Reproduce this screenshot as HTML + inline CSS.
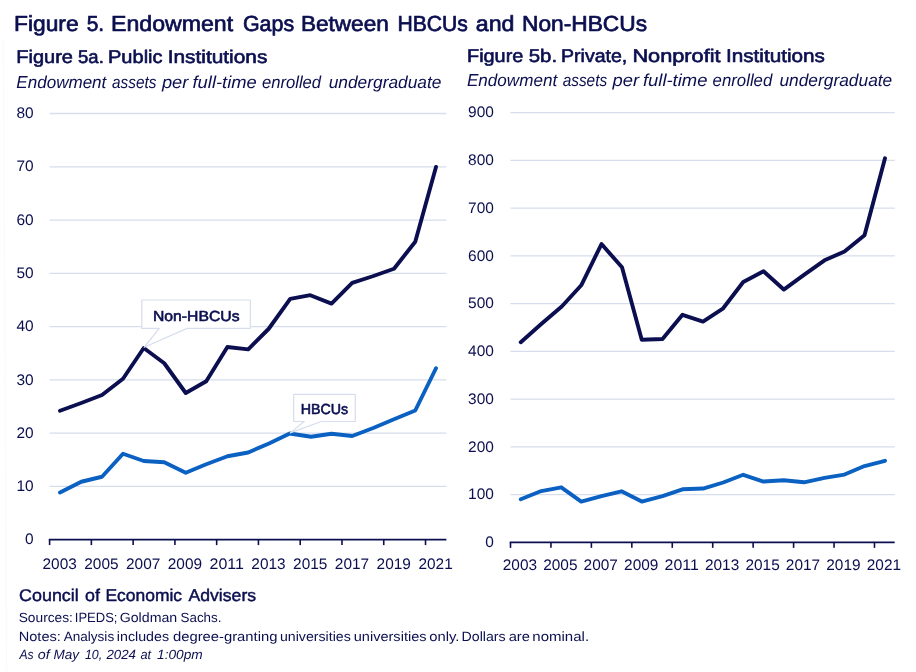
<!DOCTYPE html>
<html lang="en"><head><meta charset="utf-8"><title>Figure 5. Endowment Gaps Between HBCUs and Non-HBCUs</title>
<style>html,body{margin:0;padding:0;background:#fff}body{width:916px;height:672px;overflow:hidden}svg{display:block}text{font-family:"Liberation Sans",sans-serif;fill:#0b0f4f;text-rendering:geometricPrecision}</style></head><body>
<svg width="916" height="672" viewBox="0 0 916 672">
<rect width="916" height="672" fill="#fff"/>
<line x1="3.3" y1="39" x2="6.6" y2="672" stroke="#fafafc" stroke-width="1.2"/>
<text y="31.2" font-size="21.8" stroke="#0b0f4f" stroke-width="0.7" stroke-linejoin="round"><tspan x="13.99" textLength="64.58" lengthAdjust="spacingAndGlyphs">Figure</tspan> <tspan x="86.65" textLength="17.50" lengthAdjust="spacingAndGlyphs">5.</tspan> <tspan x="111.11" textLength="122.02" lengthAdjust="spacingAndGlyphs">Endowment</tspan> <tspan x="242.92" textLength="51.20" lengthAdjust="spacingAndGlyphs">Gaps</tspan> <tspan x="301.01" textLength="87.74" lengthAdjust="spacingAndGlyphs">Between</tspan> <tspan x="397.41" textLength="70.51" lengthAdjust="spacingAndGlyphs">HBCUs</tspan> <tspan x="475.78" textLength="38.64" lengthAdjust="spacingAndGlyphs">and</tspan> <tspan x="522.01" textLength="125.04" lengthAdjust="spacingAndGlyphs">Non-HBCUs</tspan></text>
<text y="62.9" font-size="18.3" stroke="#0b0f4f" stroke-width="0.62" stroke-linejoin="round"><tspan x="16.36" textLength="56.59" lengthAdjust="spacingAndGlyphs">Figure</tspan> <tspan x="78.09" textLength="25.70" lengthAdjust="spacingAndGlyphs">5a.</tspan> <tspan x="108.02" textLength="54.52" lengthAdjust="spacingAndGlyphs">Public</tspan> <tspan x="167.76" textLength="99.58" lengthAdjust="spacingAndGlyphs">Institutions</tspan></text>
<text y="87.6" font-size="17.3" font-style="italic"><tspan x="16.35" textLength="89.98" lengthAdjust="spacingAndGlyphs">Endowment</tspan> <tspan x="112.00" textLength="44.38" lengthAdjust="spacingAndGlyphs">assets</tspan> <tspan x="161.96" textLength="26.41" lengthAdjust="spacingAndGlyphs">per</tspan> <tspan x="192.51" textLength="64.26" lengthAdjust="spacingAndGlyphs">full-time</tspan> <tspan x="261.88" textLength="59.25" lengthAdjust="spacingAndGlyphs">enrolled</tspan> <tspan x="328.67" textLength="112.82" lengthAdjust="spacingAndGlyphs">undergraduate</tspan></text>
<text y="61.6" font-size="18.3" stroke="#0b0f4f" stroke-width="0.62" stroke-linejoin="round"><tspan x="467.05" textLength="56.23" lengthAdjust="spacingAndGlyphs">Figure</tspan> <tspan x="528.80" textLength="28.24" lengthAdjust="spacingAndGlyphs">5b.</tspan> <tspan x="561.04" textLength="66.24" lengthAdjust="spacingAndGlyphs">Private,</tspan> <tspan x="632.40" textLength="88.24" lengthAdjust="spacingAndGlyphs">Nonprofit</tspan> <tspan x="725.96" textLength="98.88" lengthAdjust="spacingAndGlyphs">Institutions</tspan></text>
<text y="86.0" font-size="17.3" font-style="italic"><tspan x="466.97" textLength="90.20" lengthAdjust="spacingAndGlyphs">Endowment</tspan> <tspan x="562.68" textLength="44.48" lengthAdjust="spacingAndGlyphs">assets</tspan> <tspan x="612.64" textLength="26.60" lengthAdjust="spacingAndGlyphs">per</tspan> <tspan x="642.94" textLength="64.50" lengthAdjust="spacingAndGlyphs">full-time</tspan> <tspan x="712.60" textLength="59.68" lengthAdjust="spacingAndGlyphs">enrolled</tspan> <tspan x="779.40" textLength="112.88" lengthAdjust="spacingAndGlyphs">undergraduate</tspan></text>
<text y="601.3" font-size="17" stroke="#0b0f4f" stroke-width="0.45" stroke-linejoin="round"><tspan x="19.05" textLength="59.74" lengthAdjust="spacingAndGlyphs">Council</tspan> <tspan x="84.99" textLength="14.90" lengthAdjust="spacingAndGlyphs">of</tspan> <tspan x="105.44" textLength="76.63" lengthAdjust="spacingAndGlyphs">Economic</tspan> <tspan x="188.51" textLength="67.56" lengthAdjust="spacingAndGlyphs">Advisers</tspan></text>
<text y="622.2" font-size="13.3"><tspan x="18.70" textLength="54.26" lengthAdjust="spacingAndGlyphs">Sources:</tspan> <tspan x="74.78" textLength="42.66" lengthAdjust="spacingAndGlyphs">IPEDS;</tspan> <tspan x="119.73" textLength="57.50" lengthAdjust="spacingAndGlyphs">Goldman</tspan> <tspan x="180.55" textLength="40.94" lengthAdjust="spacingAndGlyphs">Sachs.</tspan></text>
<text y="640.5" font-size="13.3"><tspan x="18.75" textLength="42.07" lengthAdjust="spacingAndGlyphs">Notes:</tspan> <tspan x="63.66" textLength="50.51" lengthAdjust="spacingAndGlyphs">Analysis</tspan> <tspan x="116.88" textLength="52.13" lengthAdjust="spacingAndGlyphs">includes</tspan> <tspan x="172.95" textLength="104.53" lengthAdjust="spacingAndGlyphs">degree-granting</tspan> <tspan x="280.01" textLength="70.71" lengthAdjust="spacingAndGlyphs">universities</tspan> <tspan x="353.76" textLength="72.77" lengthAdjust="spacingAndGlyphs">universities</tspan> <tspan x="429.32" textLength="30.18" lengthAdjust="spacingAndGlyphs">only.</tspan> <tspan x="461.51" textLength="44.14" lengthAdjust="spacingAndGlyphs">Dollars</tspan> <tspan x="508.68" textLength="21.27" lengthAdjust="spacingAndGlyphs">are</tspan> <tspan x="532.30" textLength="56.80" lengthAdjust="spacingAndGlyphs">nominal.</tspan></text>
<text y="659.2" font-size="13.3" font-style="italic"><tspan x="19.40" textLength="14.16" lengthAdjust="spacingAndGlyphs">As</tspan> <tspan x="37.83" textLength="11.93" lengthAdjust="spacingAndGlyphs">of</tspan> <tspan x="53.40" textLength="25.62" lengthAdjust="spacingAndGlyphs">May</tspan> <tspan x="84.97" textLength="17.25" lengthAdjust="spacingAndGlyphs">10,</tspan> <tspan x="106.46" textLength="29.50" lengthAdjust="spacingAndGlyphs">2024</tspan> <tspan x="140.41" textLength="10.66" lengthAdjust="spacingAndGlyphs">at</tspan> <tspan x="157.05" textLength="45.68" lengthAdjust="spacingAndGlyphs">1:00pm</tspan></text>
<g stroke="#d6ddec" stroke-width="1.3">
<line x1="49.6" x2="446.4" y1="486.34" y2="486.34"/>
<line x1="49.6" x2="446.4" y1="433.08" y2="433.08"/>
<line x1="49.6" x2="446.4" y1="379.82" y2="379.82"/>
<line x1="49.6" x2="446.4" y1="326.56" y2="326.56"/>
<line x1="49.6" x2="446.4" y1="273.30" y2="273.30"/>
<line x1="49.6" x2="446.4" y1="220.04" y2="220.04"/>
<line x1="49.6" x2="446.4" y1="166.78" y2="166.78"/>
<line x1="49.6" x2="446.4" y1="113.52" y2="113.52"/>
<line x1="510.5" x2="894.7" y1="494.60" y2="494.60"/>
<line x1="510.5" x2="894.7" y1="446.85" y2="446.85"/>
<line x1="510.5" x2="894.7" y1="399.10" y2="399.10"/>
<line x1="510.5" x2="894.7" y1="351.35" y2="351.35"/>
<line x1="510.5" x2="894.7" y1="303.60" y2="303.60"/>
<line x1="510.5" x2="894.7" y1="255.85" y2="255.85"/>
<line x1="510.5" x2="894.7" y1="208.10" y2="208.10"/>
<line x1="510.5" x2="894.7" y1="160.35" y2="160.35"/>
<line x1="510.5" x2="894.7" y1="112.60" y2="112.60"/>
</g>
<g stroke="#0b0f4f" stroke-width="1.6" fill="none">
<line x1="48.800000000000004" x2="446.4" y1="539.6" y2="539.6"/>
<line x1="49.60" x2="49.60" y1="539.6" y2="545.1"/>
<line x1="91.37" x2="91.37" y1="539.6" y2="545.1"/>
<line x1="133.14" x2="133.14" y1="539.6" y2="545.1"/>
<line x1="174.91" x2="174.91" y1="539.6" y2="545.1"/>
<line x1="216.67" x2="216.67" y1="539.6" y2="545.1"/>
<line x1="258.44" x2="258.44" y1="539.6" y2="545.1"/>
<line x1="300.21" x2="300.21" y1="539.6" y2="545.1"/>
<line x1="341.98" x2="341.98" y1="539.6" y2="545.1"/>
<line x1="383.75" x2="383.75" y1="539.6" y2="545.1"/>
<line x1="425.52" x2="425.52" y1="539.6" y2="545.1"/>
<line x1="509.7" x2="894.7" y1="542.35" y2="542.35"/>
<line x1="510.50" x2="510.50" y1="542.35" y2="547.85"/>
<line x1="550.94" x2="550.94" y1="542.35" y2="547.85"/>
<line x1="591.38" x2="591.38" y1="542.35" y2="547.85"/>
<line x1="631.83" x2="631.83" y1="542.35" y2="547.85"/>
<line x1="672.27" x2="672.27" y1="542.35" y2="547.85"/>
<line x1="712.71" x2="712.71" y1="542.35" y2="547.85"/>
<line x1="753.15" x2="753.15" y1="542.35" y2="547.85"/>
<line x1="793.59" x2="793.59" y1="542.35" y2="547.85"/>
<line x1="834.04" x2="834.04" y1="542.35" y2="547.85"/>
<line x1="874.48" x2="874.48" y1="542.35" y2="547.85"/>
</g>
<g font-size="15.3" text-anchor="end">
<text x="33.7" y="544.30" textLength="8.6" lengthAdjust="spacingAndGlyphs">0</text>
<text x="33.7" y="491.04" textLength="17.2" lengthAdjust="spacingAndGlyphs">10</text>
<text x="33.7" y="437.78" textLength="17.2" lengthAdjust="spacingAndGlyphs">20</text>
<text x="33.7" y="384.52" textLength="17.2" lengthAdjust="spacingAndGlyphs">30</text>
<text x="33.7" y="331.26" textLength="17.2" lengthAdjust="spacingAndGlyphs">40</text>
<text x="33.7" y="278.00" textLength="17.2" lengthAdjust="spacingAndGlyphs">50</text>
<text x="33.7" y="224.74" textLength="17.2" lengthAdjust="spacingAndGlyphs">60</text>
<text x="33.7" y="171.48" textLength="17.2" lengthAdjust="spacingAndGlyphs">70</text>
<text x="33.7" y="118.22" textLength="17.2" lengthAdjust="spacingAndGlyphs">80</text>
<text x="493.9" y="547.05" textLength="8.6" lengthAdjust="spacingAndGlyphs">0</text>
<text x="493.9" y="499.30" textLength="25.8" lengthAdjust="spacingAndGlyphs">100</text>
<text x="493.9" y="451.55" textLength="25.8" lengthAdjust="spacingAndGlyphs">200</text>
<text x="493.9" y="403.80" textLength="25.8" lengthAdjust="spacingAndGlyphs">300</text>
<text x="493.9" y="356.05" textLength="25.8" lengthAdjust="spacingAndGlyphs">400</text>
<text x="493.9" y="308.30" textLength="25.8" lengthAdjust="spacingAndGlyphs">500</text>
<text x="493.9" y="260.55" textLength="25.8" lengthAdjust="spacingAndGlyphs">600</text>
<text x="493.9" y="212.80" textLength="25.8" lengthAdjust="spacingAndGlyphs">700</text>
<text x="493.9" y="165.05" textLength="25.8" lengthAdjust="spacingAndGlyphs">800</text>
<text x="493.9" y="117.30" textLength="25.8" lengthAdjust="spacingAndGlyphs">900</text>
</g>
<g font-size="15.3" text-anchor="middle">
<text x="59.64" y="568.6" textLength="34.3" lengthAdjust="spacingAndGlyphs">2003</text>
<text x="101.41" y="568.6" textLength="34.3" lengthAdjust="spacingAndGlyphs">2005</text>
<text x="143.18" y="568.6" textLength="34.3" lengthAdjust="spacingAndGlyphs">2007</text>
<text x="184.95" y="568.6" textLength="34.3" lengthAdjust="spacingAndGlyphs">2009</text>
<text x="226.72" y="568.6" textLength="34.3" lengthAdjust="spacingAndGlyphs">2011</text>
<text x="268.48" y="568.6" textLength="34.3" lengthAdjust="spacingAndGlyphs">2013</text>
<text x="310.25" y="568.6" textLength="34.3" lengthAdjust="spacingAndGlyphs">2015</text>
<text x="352.02" y="568.6" textLength="34.3" lengthAdjust="spacingAndGlyphs">2017</text>
<text x="393.79" y="568.6" textLength="34.3" lengthAdjust="spacingAndGlyphs">2019</text>
<text x="435.56" y="568.6" textLength="34.3" lengthAdjust="spacingAndGlyphs">2021</text>
<text x="519.91" y="570.4" textLength="34.3" lengthAdjust="spacingAndGlyphs">2003</text>
<text x="560.35" y="570.4" textLength="34.3" lengthAdjust="spacingAndGlyphs">2005</text>
<text x="600.79" y="570.4" textLength="34.3" lengthAdjust="spacingAndGlyphs">2007</text>
<text x="641.24" y="570.4" textLength="34.3" lengthAdjust="spacingAndGlyphs">2009</text>
<text x="681.68" y="570.4" textLength="34.3" lengthAdjust="spacingAndGlyphs">2011</text>
<text x="722.12" y="570.4" textLength="34.3" lengthAdjust="spacingAndGlyphs">2013</text>
<text x="762.56" y="570.4" textLength="34.3" lengthAdjust="spacingAndGlyphs">2015</text>
<text x="803.01" y="570.4" textLength="34.3" lengthAdjust="spacingAndGlyphs">2017</text>
<text x="843.45" y="570.4" textLength="34.3" lengthAdjust="spacingAndGlyphs">2019</text>
<text x="883.89" y="570.4" textLength="34.3" lengthAdjust="spacingAndGlyphs">2021</text>
</g>
<g fill="none" stroke-width="3.9" stroke-linecap="round" stroke-linejoin="round">
<polyline stroke="#0a61c1" points="60.00,492.50 81.25,481.75 102.00,476.75 123.00,453.75 143.75,461.00 164.25,462.25 185.75,472.75 206.25,464.25 227.50,456.25 248.20,452.50 269.00,443.50 289.75,433.50 311.00,436.75 331.50,433.75 352.25,436.00 373.25,428.00 394.00,419.25 415.25,410.50 436.00,368.25"/>
<polyline stroke="#0b0f4f" points="60.00,410.75 81.25,403.00 102.00,395.00 123.00,378.75 143.75,348.00 164.25,363.25 185.75,393.00 206.25,381.25 227.40,347.00 248.20,349.40 268.75,328.75 290.20,298.90 310.30,295.20 331.50,303.60 352.20,282.90 372.75,276.25 394.00,268.75 415.25,241.75 436.00,167.00"/>
<polyline stroke="#0a61c1" points="520.75,499.30 541.25,491.05 561.25,487.30 581.25,501.55 601.50,496.05 621.50,491.30 641.75,501.55 662.50,496.05 682.50,489.30 703.10,488.55 723.20,482.50 743.25,474.80 763.50,481.55 783.75,480.30 804.00,482.30 824.50,477.80 844.50,474.55 864.50,466.05 885.00,460.80"/>
<polyline stroke="#0b0f4f" points="520.75,342.30 541.25,324.05 561.75,306.55 581.25,285.30 601.50,244.05 622.00,267.30 641.75,339.80 662.50,339.05 682.50,314.80 703.00,321.55 723.20,308.30 743.25,282.05 763.50,271.30 783.75,289.55 804.00,274.80 824.50,260.30 844.50,251.55 864.50,235.30 885.00,158.30"/>
</g>
<g fill="#fff" stroke="#d6ddec" stroke-width="1.2" stroke-linejoin="round">
<path d="M141.8 300H250.3V328.4H187.1L144.2 347.2L159.3 328.4H141.8Z"/>
<path d="M293.7 394.3H355.3V421.5H321.2L290.2 432.9L304.2 421.5H293.7Z"/>
</g>
<text x="153" y="320.6" font-size="14.6" stroke="#0b0f4f" stroke-width="0.6" stroke-linejoin="round" textLength="86.5" lengthAdjust="spacingAndGlyphs">Non-HBCUs</text>
<text x="300.8" y="413.7" font-size="14.6" stroke="#0b0f4f" stroke-width="0.6" stroke-linejoin="round" textLength="47.4" lengthAdjust="spacingAndGlyphs">HBCUs</text>
</svg></body></html>
